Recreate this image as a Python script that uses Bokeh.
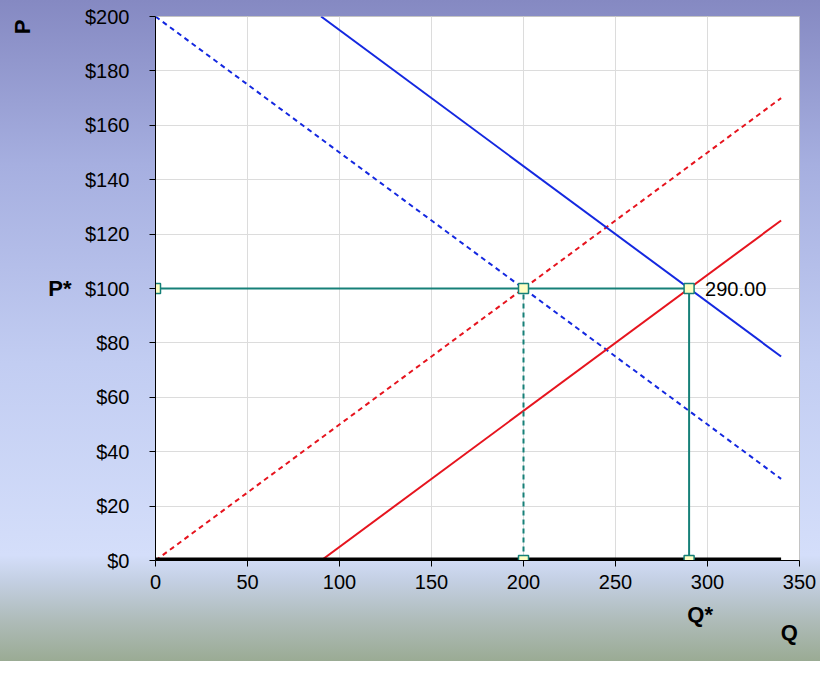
from bokeh.plotting import figure
from bokeh.models import (Range1d, NumeralTickFormatter, SingleIntervalTicker, Label,
                          LinearAxis, FixedTicker, Title)
from bokeh.embed import file_html
from bokeh.resources import INLINE

# ---- data ----
q_supply_dashed = [0, 340]
p_supply_dashed = [0, 170]
q_supply = [90, 340]
p_supply = [0, 125]
q_demand_dashed = [0, 340]
p_demand_dashed = [200, 30]
q_demand = [90, 340]
p_demand = [200, 75]
p_star = 100
q_star = 290
q_old = 200
q_base = [0, 340]
p_base = [0, 0]
eq_label = "290.00"
qstar_label_pos = 296
q_label_pos = 344.5

FONT = "Liberation Sans"
BLUE = "#1428e0"
RED = "#e6141e"
TEAL = "#168078"

p = figure(width=820, height=661, output_backend="svg", toolbar_location=None,
           x_range=Range1d(0, 350), y_range=Range1d(0, 200),
           min_border_left=155, min_border_right=21, min_border_top=16, min_border_bottom=101)
p.border_fill_color = None
p.background_fill_color = "white"
p.outline_line_color = "#c4c4c4"
p.styles = {"background": "linear-gradient(to bottom, #8589c2 0%, #a6afe0 25%, #c2cdf2 55%, #d4defa 84%, #c3cfe2 88%, #aebbb8 94%, #9aab94 100%)"}

p.xaxis.ticker = SingleIntervalTicker(interval=50)
p.yaxis.ticker = SingleIntervalTicker(interval=20)
p.yaxis.formatter = NumeralTickFormatter(format="$0")
for ax in (p.xaxis[0], p.yaxis[0]):
    ax.axis_line_color = "black"
    ax.major_tick_line_color = "black"
    ax.major_tick_out = 6
    ax.major_tick_in = 0
    ax.minor_tick_line_color = None
    ax.major_label_text_font = FONT
    ax.major_label_text_font_size = "20px"
    ax.major_label_text_color = "black"
p.yaxis.major_label_standoff = 20
p.xaxis.major_label_standoff = 8
p.xgrid.ticker = SingleIntervalTicker(interval=50)
p.ygrid.ticker = SingleIntervalTicker(interval=20)
p.grid.grid_line_color = "#dcdcdc"


def label_axis(tick, text, standoff, orientation="horizontal"):
    ax = LinearAxis(ticker=FixedTicker(ticks=[tick], minor_ticks=[]),
                    major_label_overrides={tick: text})
    ax.axis_line_color = None
    ax.major_tick_line_color = None
    ax.minor_tick_line_color = None
    ax.major_tick_out = 0
    ax.major_tick_in = 0
    ax.major_label_standoff = standoff
    ax.major_label_text_font = FONT
    ax.major_label_text_font_size = "22px"
    ax.major_label_text_font_style = "bold"
    ax.major_label_text_color = "black"
    ax.major_label_orientation = orientation
    return ax


p.add_layout(label_axis(p_star, "P*", 11), "left")
p.add_layout(label_axis(qstar_label_pos, "Q*", 10), "below")
p.add_layout(label_axis(q_label_pos, "Q", -10), "below")
p.add_layout(Title(text="P", align="right", vertical_align="top", standoff=17, offset=3,
                   text_font=FONT, text_font_size="22px", text_font_style="bold",
                   text_color="black"), "left")

p.line(q_demand_dashed, p_demand_dashed, line_color=BLUE, line_width=2, line_dash="5 4")
p.line(q_supply_dashed, p_supply_dashed, line_color=RED, line_width=2, line_dash="5 4")
p.line(q_demand, p_demand, line_color=BLUE, line_width=2)
p.line(q_supply, p_supply, line_color=RED, line_width=2)
p.line(q_base, p_base, line_color="black", line_width=6)

p.line([0, q_star], [p_star, p_star], line_color=TEAL, line_width=2)
p.line([q_old, q_old], [0, p_star], line_color=TEAL, line_width=2, line_dash="5 4")
p.line([q_star, q_star], [0, p_star], line_color=TEAL, line_width=2)
p.scatter([0, q_old, q_star, q_old, q_star], [p_star, p_star, p_star, 0, 0], marker="square",
          size=10, fill_color="#ffffc4", line_color=TEAL, line_width=1.5)

p.add_layout(Label(x=q_star, y=p_star, text=eq_label, x_offset=16, text_baseline="middle",
                   text_font=FONT, text_font_size="20px", text_color="black"))

open("out.html", "w").write(file_html(p, INLINE))
